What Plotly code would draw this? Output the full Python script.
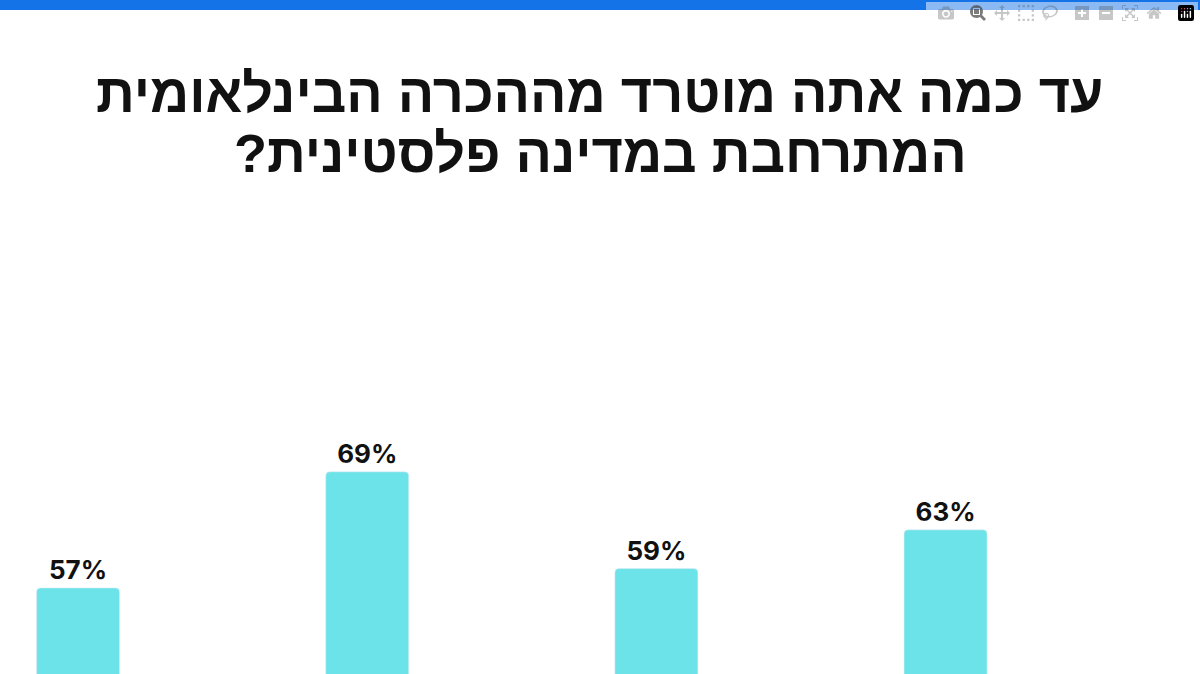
import plotly.graph_objects as go

categories = ["A", "B", "C", "D"]
values = [57, 69, 59, 63]
labels = ["57%", "69%", "59%", "63%"]
title_line1 = "עד כמה אתה מוטרד מההכרה הבינלאומית"
title_line2 = "המתרחבת במדינה פלסטינית?\u200f"

H, TOP = 674, 230
PH = H - TOP
def py(px):
    return 1 + (TOP - px) / PH

fig = go.Figure(go.Bar(
    x=list(range(len(values))), y=values, text=[f"<b>{t}</b>" for t in labels],
    textposition="outside",
    width=0.287, marker=dict(color="#6ce3e8", cornerradius=4),
    textfont=dict(family="Inter, Lato, sans-serif", size=26, color="#111"),
    cliponaxis=False, hoverinfo="skip"))

fig.update_layout(
    width=1200, height=674, paper_bgcolor="white", plot_bgcolor="white",
    margin=dict(l=0, r=0, t=TOP, b=0), showlegend=False,
    xaxis=dict(range=[-0.27, 3.88], visible=False),
    yaxis=dict(range=[48.1, 94], visible=False),
    shapes=[dict(type="rect", xref="paper", yref="paper", x0=0, x1=1,
                 y0=py(10), y1=py(0), fillcolor="#1473e6", line_width=0)],
    annotations=[
        dict(text=f"<b>{title_line1}</b>", x=0.5, y=py(93), xref="paper", yref="paper",
             yanchor="middle", showarrow=False,
             font=dict(family="Liberation Sans", size=54, color="#111")),
        dict(text=f"<b>{title_line2}</b>", x=0.5, y=py(153), xref="paper", yref="paper",
             yanchor="middle", showarrow=False,
             font=dict(family="Liberation Sans", size=54, color="#111")),
    ])
fig.write_html("out.html", post_script="document.body.style.margin='0';")
